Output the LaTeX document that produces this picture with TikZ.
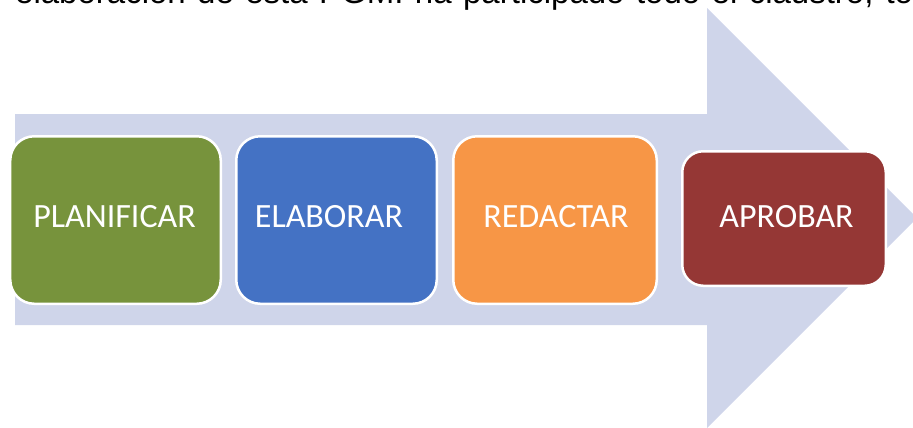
\documentclass[tikz,border=0pt]{standalone}
\usepackage{fontspec}
\setmainfont{Carlito}
\newfontfamily\topfont{Liberation Sans}
\definecolor{arrowfill}{HTML}{CFD5EA}
\definecolor{boxgreen}{HTML}{77933C}
\definecolor{boxblue}{HTML}{4472C4}
\definecolor{boxorange}{HTML}{F79646}
\definecolor{boxred}{HTML}{953735}
\tikzset{
  stepbox/.style={draw=white, line width=2.5bp, rounded corners=24bp, inner sep=0pt},
  steplabel/.style={text=white, inner sep=0pt, font=\fontsize{34bp}{40bp}\selectfont},
  toptext/.style={anchor=base west, inner sep=0pt, text=black, font=\topfont\fontsize{33bp}{38bp}\selectfont}
}
\begin{document}
\begin{tikzpicture}[x=1bp, y=-1bp]
\useasboundingbox (0,0) rectangle (913,427);
\clip (0,0) rectangle (913,427);
% top text (cut off by the frame)
\node[toptext] (top) at (15,3) {\makebox[898bp][s]{elaboración de esta PGMI ha participado todo el claustro, to}};
% big arrow
\fill[arrowfill] (15,114) -- (707,114) -- (707,8) -- (917,218) -- (707,428) -- (707,325) -- (15,325) -- cycle;
% boxes
\node[stepbox, fill=boxgreen, minimum width=210.5bp, minimum height=167.5bp] (b1) at (115.5,220) {};
\node[stepbox, fill=boxblue, minimum width=200.5bp, minimum height=167.5bp] (b2) at (336.5,220) {};
\node[stepbox, fill=boxorange, minimum width=203.5bp, minimum height=167.5bp] (b3) at (555,220) {};
\node[stepbox, fill=boxred, rounded corners=21bp, minimum width=203.5bp, minimum height=134.5bp] (b4) at (784,218.5) {};
% labels
\node[steplabel] (t1) at (114.5,216.5) {PLANIFICAR};
\node[steplabel] (t2) at (329,216.5) {ELABORAR};
\node[steplabel] (t3) at (556,216.5) {REDACTAR};
\node[steplabel] (t4) at (786.5,216.5) {APROBAR};
\end{tikzpicture}
\end{document}
